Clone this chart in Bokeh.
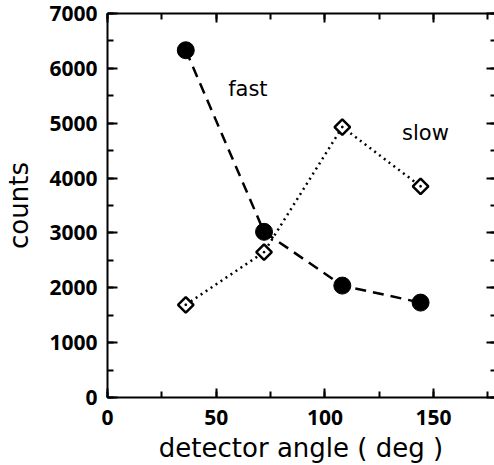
from bokeh.plotting import figure
from bokeh.models import (Range1d, LinearAxis, SingleIntervalTicker, Label,
                          CustomJSTickFormatter)
from bokeh.embed import file_html
from bokeh.resources import INLINE
import numpy as np

# detector angles (deg) and measured counts
angles = [36, 72, 108, 144]
fast_counts = [6330, 3020, 2040, 1730]
slow_counts = [1690, 2650, 4930, 3850]

TICK_FONT = "Open Sans"
LABEL_FONT = "DejaVu Sans"

p = figure(width=494, height=465, output_backend="svg", toolbar_location=None,
           x_range=Range1d(0, 178), y_range=Range1d(0, 7000),
           min_border_left=107, min_border_top=13, min_border_bottom=10,
           min_border_right=0, x_axis_type=None, y_axis_type=None)
p.grid.visible = False
p.outline_line_color = None
p.background_fill_color = "white"
p.border_fill_color = "white"

xt = SingleIntervalTicker(interval=50, num_minor_ticks=2)
yt = SingleIntervalTicker(interval=1000, num_minor_ticks=2)


def style(ax, labels=True):
    ax.axis_line_width = 2
    ax.axis_line_color = "black"
    ax.major_tick_line_width = 2
    ax.minor_tick_line_width = 2
    ax.major_tick_out = 0
    ax.minor_tick_out = 0
    if labels:
        ax.major_label_text_font = TICK_FONT
        ax.major_label_text_font_style = "bold"
        ax.major_label_text_font_size = "21px"
        ax.major_label_text_color = "black"
        ax.axis_label_text_font = LABEL_FONT
        ax.axis_label_text_font_size = "26px"
        ax.axis_label_text_font_style = "normal"
        ax.axis_label_text_color = "black"
    else:
        ax.formatter = CustomJSTickFormatter(code="return ''")
        ax.major_label_text_font_size = "0px"
        ax.major_label_standoff = 0


xb = LinearAxis(ticker=xt, axis_label="detector angle ( deg )")
style(xb)
xb.major_tick_in = 9
xb.minor_tick_in = 6
xb.major_label_standoff = 12
xb.axis_label_standoff = 5
p.add_layout(xb, "below")

yl = LinearAxis(ticker=yt, axis_label="counts")
style(yl)
yl.major_tick_in = 10
yl.minor_tick_in = 6
yl.major_label_standoff = 10
yl.axis_label_standoff = 12
p.add_layout(yl, "left")

xtop = LinearAxis(ticker=xt)
style(xtop, labels=False)
xtop.major_tick_in = 9
xtop.minor_tick_in = 6
p.add_layout(xtop, "above")

yr = LinearAxis(ticker=yt)
style(yr, labels=False)
yr.axis_line_color = None
yr.major_tick_in = 8
yr.minor_tick_in = 4
p.add_layout(yr, "right")

# connecting lines
p.line(angles, fast_counts, line_color="black", line_width=2.5,
       line_dash="11 7")
p.line(angles, slow_counts, line_color="black", line_width=2.5,
       line_dash="2 4")

# markers
p.scatter(angles, fast_counts, marker="circle", size=17,
          fill_color="black", line_color="black")
p.scatter(angles, slow_counts, marker="square_dot", size=11, angle=np.pi / 4,
          fill_color="white", line_color="black", line_width=2.5)

for txt, x, y in [("fast", 55.5, 5620), ("slow", 135.5, 4830)]:
    p.add_layout(Label(x=x, y=y, text=txt, text_font=LABEL_FONT,
                       text_font_size="21px", text_color="black",
                       text_baseline="alphabetic", text_align="left"))

open("out.html", "w").write(file_html(p, INLINE))
